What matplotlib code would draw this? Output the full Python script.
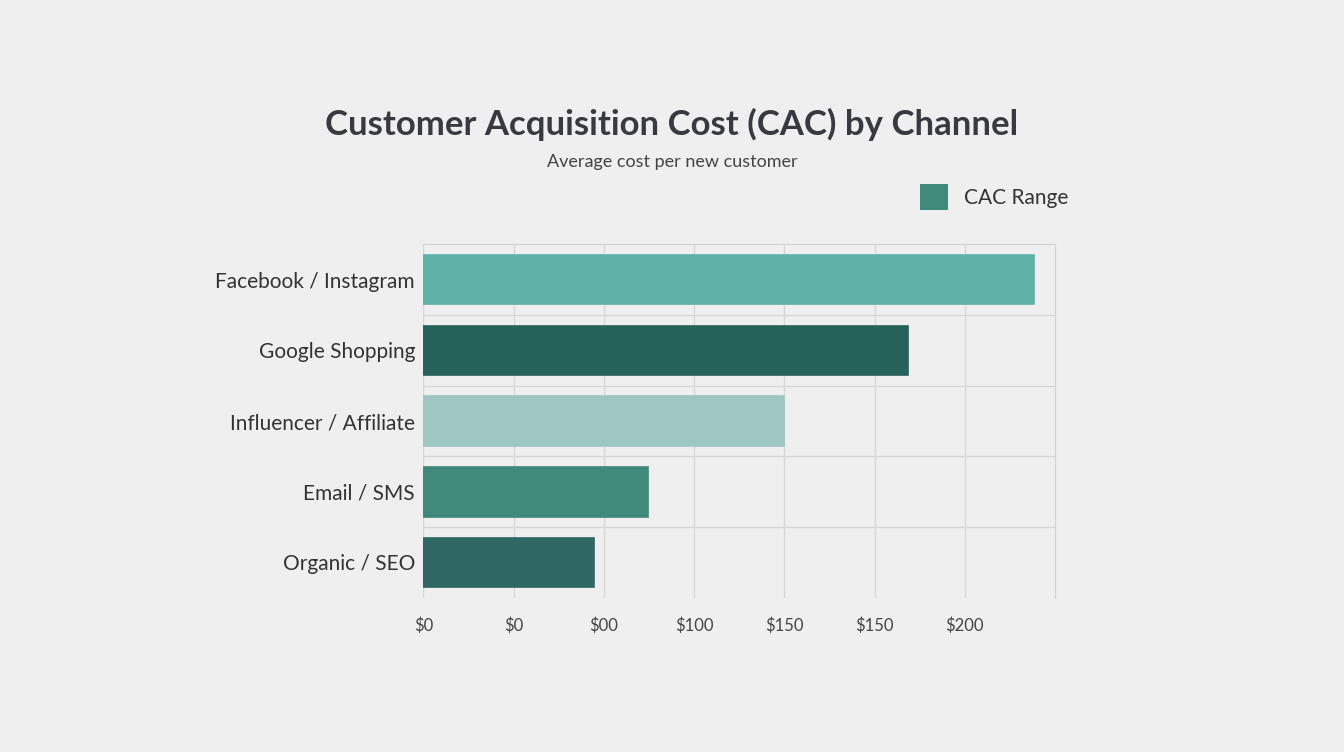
import matplotlib
matplotlib.use("Agg")
import matplotlib.pyplot as plt
from matplotlib.patches import Patch

plt.rcParams['font.family'] = ['Lato', 'DejaVu Sans']

channels = ["Facebook / Instagram", "Google Shopping", "Influencer / Affiliate", "Email / SMS", "Organic / SEO"]
cac_values = [237, 188, 140, 87, 66]
bar_colors = ["#5fb2a7", "#25625a", "#9fc7c2", "#3f8a7b", "#2f6862"]
tick_values = [0, 35, 70, 105, 140, 175, 210]
tick_labels = ["$0", "$0", "$00", "$100", "$150", "$150", "$200"]

fig = plt.figure(figsize=(13.44, 7.52), dpi=100)
fig.patch.set_facecolor("#efefef")
ax = fig.add_axes([0.315, 0.205, 0.47, 0.47])
ax.set_facecolor("#efefef")

y = list(range(len(channels)))
ax.barh(y, cac_values, height=0.7, color=bar_colors, edgecolor=[c for c in bar_colors],
        linewidth=1.2, zorder=3)
ax.set_yticks(y)
ax.set_yticklabels(channels, fontsize=15, color="#333333")
ax.set_ylim(len(channels) - 0.5, -0.5)
ax.set_xlim(0, 245)
ax.set_xticks(tick_values)
ax.set_xticklabels(tick_labels, fontsize=12, color="#444444")
ax.tick_params(axis="both", length=0)
ax.tick_params(axis="x", pad=14)
ax.tick_params(axis="y", pad=6)

ax.xaxis.grid(True, color="#d6d6d6", linewidth=0.9, zorder=0)
for b in [i + 0.5 for i in range(len(channels) - 1)]:
    ax.axhline(b, color="#d6d6d6", linewidth=0.9, zorder=0)
for side in ["top", "right"]:
    ax.spines[side].set_color("#d2d2d2")
for side in ["left", "bottom"]:
    ax.spines[side].set_visible(False)

fig.text(0.5, 0.835, "Customer Acquisition Cost (CAC) by Channel", ha="center", va="center",
         fontsize=25, fontweight="bold", color="#383a3f")
fig.text(0.5, 0.785, "Average cost per new customer", ha="center", va="center",
         fontsize=13, color="#444444")

handles = [Patch(facecolor="#3f8a7b", edgecolor="none", label="CAC Range")]
fig.legend(handles=handles, loc="center", bbox_to_anchor=(0.74, 0.738), frameon=False,
           fontsize=15, handlelength=1.3, handleheight=1.5, labelcolor="#333333")

fig.savefig("out.png", dpi=100, facecolor=fig.get_facecolor())
